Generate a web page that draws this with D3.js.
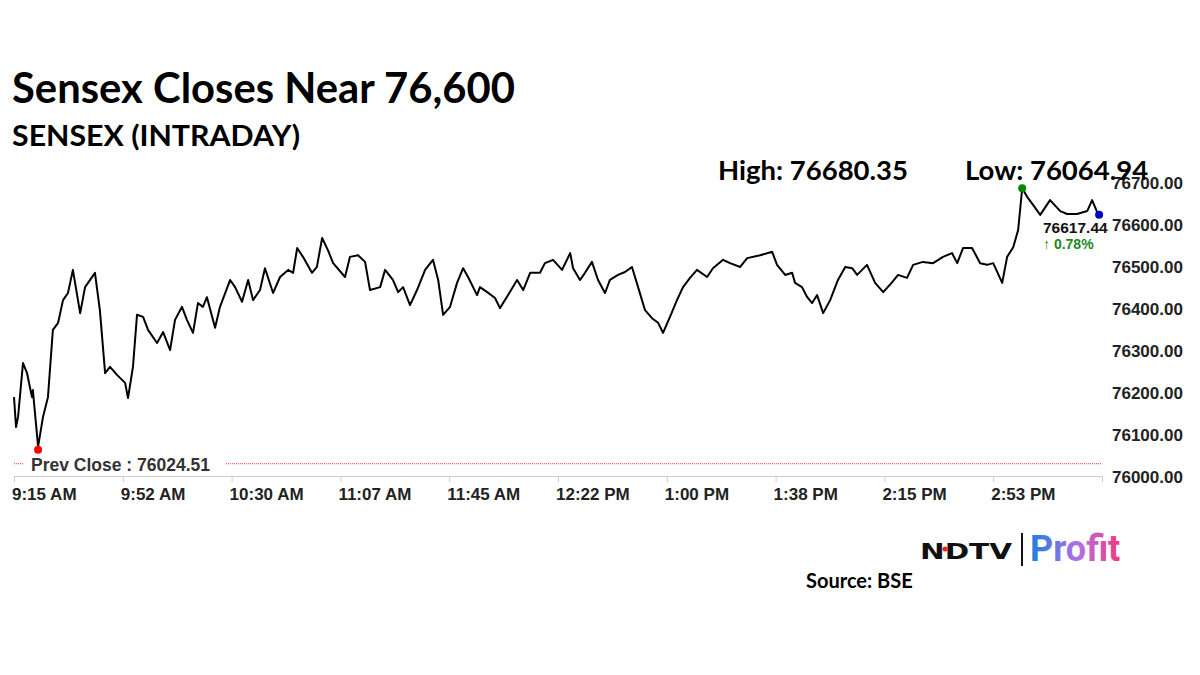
<!DOCTYPE html>
<html><head><meta charset="utf-8">
<script src="https://cdn.jsdelivr.net/npm/d3@7"></script>
<style>body{margin:0;background:#fff}svg{display:block}</style>
</head><body>
<svg id="chart" width="1200" height="675"></svg>
<script>
// minutes after 9:15 AM
const minutes = [0,0.7,1.4,3.1,4.5,6.2,6.5,8.3,10.0,11.7,13.4,15.2,16.9,18.6,20.3,22.8,24.5,27.9,29.6,31.4,33.1,35.5,38.3,39.3,41.0,42.4,44.5,46.2,49.3,51.4,53.8,55.5,57.9,59.6,61.7,63.4,65.1,66.5,69.3,71.0,74.5,76.2,78.6,80.7,82.4,84.8,86.5,89.3,91.7,94.5,96.2,97.6,99.6,102.7,104.4,106.2,108.2,110.0,114.1,115.8,118.6,121.0,122.7,126.2,127.9,130.6,132.4,134.1,136.5,138.9,141.7,144.4,146.2,147.9,150.3,152.7,154.8,156.5,159.6,160.6,163.1,165.8,167.5,170.3,173.4,175.5,177.9,181.3,183.0,185.8,188.9,191.7,192.7,195.1,196.8,199.2,201.3,203.7,205.4,208.2,210.6,213.0,215.1,217.5,219.9,222.0,223.7,226.1,228.5,230.6,233.0,235.4,238.9,240.9,244.4,246.8,250.3,252.7,257.2,261.3,263.0,265.8,268.2,269.2,271.6,273.4,275.1,276.8,278.9,281.3,284.0,286.5,288.9,290.6,294.0,296.8,299.6,302.7,304.7,307.8,309.9,313.3,316.8,320.2,323.3,325.1,327.1,330.2,333.0,335.4,337.5,340.6,342.3,344.4,346.1,347.5,349.2,351.3,353.7,357.1,360.6,363.0,366.4,369.9,371.6,373.3,374.0];
const sensex = [76183,76112,76136,76264,76240,76183,76200,76065,76136,76183,76343,76360,76414,76431,76486,76383,76445,76479,76390,76240,76255,76236,76217,76181,76255,76379,76374,76343,76312,76338,76295,76367,76398,76367,76336,76407,76398,76421,76348,76398,76462,76445,76410,76462,76414,76438,76490,76431,76469,76486,76479,76538,76517,76479,76493,76562,76533,76502,76469,76517,76521,76505,76438,76445,76486,76462,76433,76445,76402,76438,76486,76510,76462,76379,76398,76455,76490,76469,76426,76445,76433,76419,76395,76426,76462,76438,76479,76479,76502,76510,76486,76526,76490,76462,76479,76505,76462,76431,76462,76474,76481,76493,76445,76390,76371,76360,76336,76374,76414,76445,76467,76486,76469,76490,76510,76502,76493,76514,76521,76529,76498,76474,76479,76455,76445,76421,76407,76426,76383,76414,76462,76493,76490,76474,76498,76455,76433,76457,76474,76467,76498,76505,76502,76517,76526,76502,76538,76538,76502,76498,76502,76455,76517,76540,76581,76680.35,76660,76640,76617,76652,76626,76619,76619,76626,76652,76624,76617.44];
const tickMinutes = [0,37.5,75,112.5,150,187.5,225,262.5,300,337.5];
const tickLabels = ["9:15 AM","9:52 AM","10:30 AM","11:07 AM","11:45 AM","12:22 PM","1:00 PM","1:38 PM","2:15 PM","2:53 PM"];
const yTicks = [76000,76100,76200,76300,76400,76500,76600,76700];
const prevClose = 76024.51, dayHigh = 76680.35, dayLow = 76064.94, lastVal = 76617.44, changePct = 0.78;

const svg = d3.select("#chart");
const x = d3.scaleLinear().domain([0, 375]).range([14, 1102]);
const y = d3.scaleLinear().domain([76000, 76700]).range([474, 180]);
const data = minutes.map((m, i) => ({ m, v: sensex[i] }));

svg.append("text").attr("x", 12).attr("y", 103).attr("font-family", "Lato").attr("font-weight", 700)
  .attr("font-size", 42).attr("textLength", 503).attr("lengthAdjust", "spacingAndGlyphs")
  .attr("fill", "#000").text("Sensex Closes Near 76,600");
svg.append("text").attr("x", 12).attr("y", 146).attr("font-family", "Lato").attr("font-weight", 700)
  .attr("font-size", 29).attr("textLength", 288).attr("lengthAdjust", "spacingAndGlyphs")
  .attr("fill", "#000").text("SENSEX (INTRADAY)");

// axes
const xAxis = svg.append("g").attr("transform", "translate(0,476)")
  .call(d3.axisBottom(x).tickValues([...tickMinutes, 375]).tickSize(6).tickFormat(""));
xAxis.select(".domain").attr("stroke", "#ccc");
xAxis.selectAll(".tick line").attr("stroke", "#ccc");
svg.selectAll(".xlab").data(tickMinutes).join("text").attr("class", "xlab")
  .attr("x", d => x(d) - 2).attr("y", 500).attr("font-family", "Liberation Sans, Arial")
  .attr("font-weight", 700).attr("font-size", 17).attr("fill", "#222").text((d, i) => tickLabels[i]);

const yAxis = svg.append("g").attr("transform", "translate(1108,0)")
  .call(d3.axisRight(y).tickValues(yTicks).tickSize(0).tickPadding(4).tickFormat(d => d3.format(".2f")(d)));
yAxis.select(".domain").remove();
yAxis.selectAll("text").attr("font-family", "Liberation Sans, Arial").attr("font-weight", 700)
  .attr("font-size", 17).attr("fill", "#222").attr("dy", "0.5em");

// prev close
svg.append("line").attr("x1", 14).attr("x2", 1102).attr("y1", y(prevClose)).attr("y2", y(prevClose))
  .attr("stroke", "#e33").attr("stroke-width", 1).attr("stroke-dasharray", "1,1");
svg.append("rect").attr("x", 24).attr("y", y(prevClose) - 10).attr("width", 202).attr("height", 18).attr("fill", "#fff");
svg.append("text").attr("x", 31).attr("y", y(prevClose) + 7).attr("font-family", "Liberation Sans, Arial")
  .attr("font-weight", 700).attr("font-size", 17.5).attr("fill", "#333").text("Prev Close : " + prevClose.toFixed(2));

// line
svg.append("path").datum(data).attr("fill", "none").attr("stroke", "#000").attr("stroke-width", 2)
  .attr("stroke-linejoin", "round")
  .attr("d", d3.line().x(d => x(d.m)).y(d => y(d.v)));

const lowPt = data.reduce((a, b) => (b.v < a.v ? b : a));
const highPt = data.reduce((a, b) => (b.v > a.v ? b : a));
const lastPt = data[data.length - 1];
svg.append("circle").attr("cx", x(lowPt.m)).attr("cy", y(dayLow) + 3).attr("r", 4).attr("fill", "#f00");
svg.append("circle").attr("cx", x(highPt.m)).attr("cy", y(highPt.v)).attr("r", 4).attr("fill", "#080");
svg.append("circle").attr("cx", x(lastPt.m)).attr("cy", y(lastPt.v)).attr("r", 4).attr("fill", "#00c");

svg.append("text").attr("x", 1043).attr("y", 233).attr("font-family", "Liberation Sans, Arial")
  .attr("font-weight", 700).attr("font-size", 15.5).attr("fill", "#111").text(lastVal.toFixed(2));
svg.append("text").attr("x", 1043).attr("y", 249).attr("font-family", "Liberation Sans, Arial")
  .attr("font-weight", 700).attr("font-size", 14).attr("fill", "#1a8a1a").text("\u2191 " + changePct.toFixed(2) + "%");

svg.append("text").attr("x", 718).attr("y", 180).attr("font-family", "Lato").attr("font-weight", 700)
  .attr("font-size", 27.5).attr("fill", "#000").text("High: " + dayHigh.toFixed(2));
svg.append("text").attr("x", 965).attr("y", 180).attr("font-family", "Lato").attr("font-weight", 700)
  .attr("font-size", 27.5).attr("fill", "#000").text("Low: " + dayLow.toFixed(2));

// logo
const grad = svg.append("defs").append("linearGradient").attr("id", "pg");
grad.append("stop").attr("offset", "0%").attr("stop-color", "#1e7fe0");
grad.append("stop").attr("offset", "55%").attr("stop-color", "#b66ee8");
grad.append("stop").attr("offset", "100%").attr("stop-color", "#f0397a");
svg.append("text").attr("x", 920).attr("y", 559).attr("font-family", "DejaVu Sans").attr("font-weight", 700)
  .attr("font-size", 22).attr("textLength", 92).attr("lengthAdjust", "spacingAndGlyphs")
  .attr("fill", "#111").text("NDTV");
svg.append("circle").attr("cx", 945).attr("cy", 549).attr("r", 2.5).attr("fill", "#e22");
svg.append("line").attr("x1", 1022).attr("x2", 1022).attr("y1", 533).attr("y2", 566).attr("stroke", "#111").attr("stroke-width", 2);
svg.append("text").attr("x", 1030).attr("y", 561).attr("font-family", "Roboto").attr("font-weight", 700)
  .attr("font-size", 36).attr("fill", "url(#pg)").text("Profit");
svg.append("text").attr("x", 806).attr("y", 588).attr("font-family", "Lato").attr("font-weight", 700)
  .attr("font-size", 20).attr("fill", "#000").text("Source: BSE");
</script>
</body></html>
